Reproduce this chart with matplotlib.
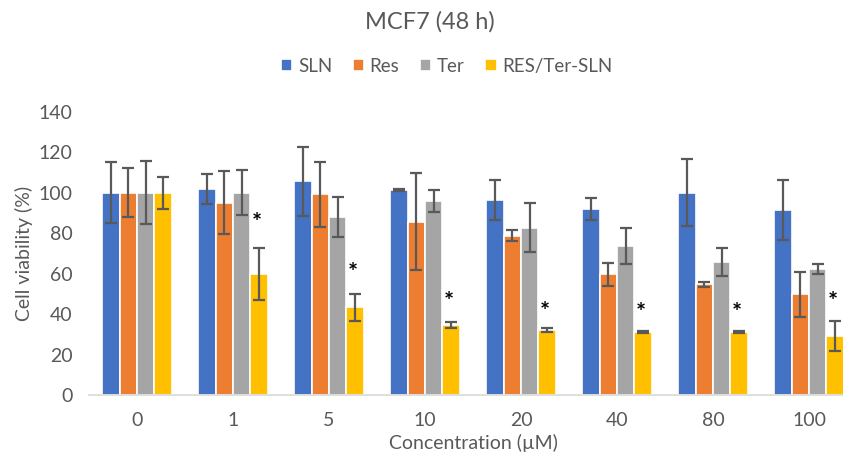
import numpy as np
import matplotlib.pyplot as plt

plt.rcParams['font.family'] = ['Lato', 'DejaVu Sans']

concentrations = ['0', '1', '5', '10', '20', '40', '80', '100']
series = ['SLN', 'Res', 'Ter', 'RES/Ter-SLN']
colors = ['#4472C4', '#ED7D31', '#A5A5A5', '#FFC000']

sln = [100, 101.8, 105.6, 101.3, 96.5, 91.9, 100, 91.4]
sln_err = [15, 7.3, 17, 0.5, 10, 5.5, 16.5, 15]
res = [100, 95, 99.2, 85.6, 78.7, 59.6, 54.7, 49.7]
res_err = [12, 15.5, 16, 24, 2.7, 5.7, 1.3, 11]
ter = [100, 100.1, 88, 96, 82.8, 73.8, 65.6, 62.3]
ter_err = [15.5, 11, 10, 5.5, 12, 9, 7, 2.7]
combo = [100, 59.8, 43.3, 34.6, 32.1, 31, 31, 29.3]
combo_err = [8, 13, 6.5, 1.5, 1, 0.5, 0.5, 7.3]

# y position of significance stars (None = no star)
star_y = [None, 85, 60, 45.5, 41, 40.5, 40.5, 45.5]

values = [sln, res, ter, combo]
errors = [sln_err, res_err, ter_err, combo_err]

fig = plt.figure(figsize=(8.43, 4.62), dpi=100)
ax = fig.add_axes([0.1056, 0.145, 0.911, 0.613])

x = np.arange(len(concentrations))
step = 0.181
for i, (vals, errs, name, col) in enumerate(zip(values, errors, series, colors)):
    pos = x + (i - 1.5) * step
    ax.bar(pos, vals, width=step, color=col, edgecolor='white', linewidth=1.2,
           label=name, zorder=2)
    ax.errorbar(pos, vals, yerr=errs, fmt='none', ecolor='#595959',
                elinewidth=1.6, capsize=4, capthick=1.6, zorder=3)

for xi, sy in zip(x, star_y):
    if sy is not None:
        ax.text(xi + 1.5 * step - 0.02, sy, '*', ha='center', va='center',
                fontsize=17, fontweight='bold', color='black', zorder=4)

ax.set_xlim(-0.5, len(concentrations) - 0.5)
ax.set_ylim(0, 140)
ax.set_yticks(np.arange(0, 141, 20))
ax.set_xticks(x)
ax.set_xticklabels(concentrations)
ax.tick_params(axis='both', length=0, labelsize=14, labelcolor='#595959')
ax.tick_params(axis='x', pad=12)
ax.tick_params(axis='y', pad=12)

for s in ['top', 'right', 'left']:
    ax.spines[s].set_visible(False)
ax.spines['bottom'].set_color('#D9D9D9')
ax.spines['bottom'].set_linewidth(1.2)

ax.set_xlabel('Concentration (µM)', fontsize=14, color='#595959', labelpad=4)
ax.set_ylabel('Cell viability (%)', fontsize=14, color='#595959', labelpad=4)

fig.suptitle('MCF7 (48 h)', x=0.51, y=0.975, fontsize=17, color='#595959')
fig.legend(loc='center', bbox_to_anchor=(0.53, 0.857), ncol=4, frameon=False,
           fontsize=13.5, handlelength=0.6, handleheight=0.6, handletextpad=0.3,
           columnspacing=1.1, labelcolor='#595959')

fig.savefig('out.png', dpi=100)
